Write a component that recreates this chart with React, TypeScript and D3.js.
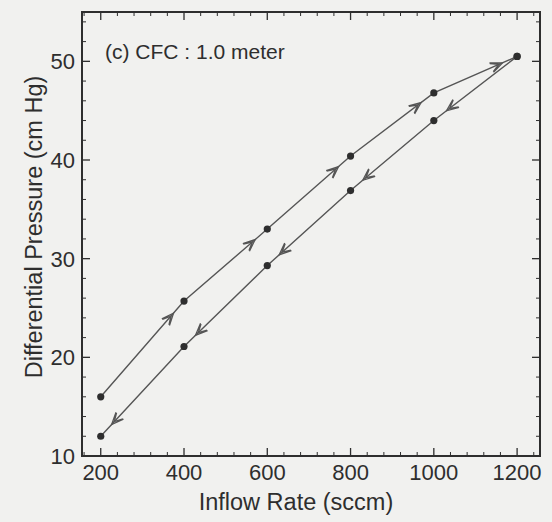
import React from "react";
import * as d3 from "d3";

const upFlow = [200, 400, 600, 800, 1000, 1200];
const upPressure = [16.0, 25.7, 33.0, 40.4, 46.8, 50.5];
const downFlow = [1200, 1000, 800, 600, 400, 200];
const downPressure = [50.5, 44.0, 36.9, 29.3, 21.1, 12.0];
const xTicks = [200, 400, 600, 800, 1000, 1200];
const yTicks = [10, 20, 30, 40, 50];
const panelLabel = "(c) CFC : 1.0 meter";
const xTitle = "Inflow Rate (sccm)";
const yTitle = "Differential Pressure (cm Hg)";

const W = 552, H = 522;
const L = 82, R = 540, T = 12, B = 456;
const FONT = "'Liberation Sans', Arial, Helvetica, sans-serif";
const INK = "#2e2e2e";
const LINE = "#555";

export default function App() {
  const x = d3.scaleLinear().domain([155, 1255]).range([L, R]);
  const y = d3.scaleLinear().domain([10, 55]).range([B, T]);

  const xMinor = d3.range(160, 1255, 40).filter((v) => v % 200 !== 0);
  const yMinor = d3.range(12, 55, 2).filter((v) => v % 10 !== 0);

  const line = d3.line<[number, number]>().x((d) => x(d[0])).y((d) => y(d[1]));
  const up: [number, number][] = upFlow.map((f, i) => [f, upPressure[i]]);
  const down: [number, number][] = downFlow.map((f, i) => [f, downPressure[i]]);

  const arrows = (pts: [number, number][]) => {
    const out: string[] = [];
    for (let i = 0; i < pts.length - 1; i++) {
      const x0 = x(pts[i][0]), y0 = y(pts[i][1]);
      const x1 = x(pts[i + 1][0]), y1 = y(pts[i + 1][1]);
      const dx = x1 - x0, dy = y1 - y0;
      const len = Math.hypot(dx, dy);
      const ux = dx / len, uy = dy / len;
      const tx = x1 - ux * 16, ty = y1 - uy * 16;
      const ang = Math.atan2(uy, ux);
      const wing = (l: number, a: number, bx: number, by: number) => {
        const a1 = ang + Math.PI - a, a2 = ang + Math.PI + a;
        return `M${bx + Math.cos(a1) * l},${by + Math.sin(a1) * l}L${bx},${by}L${bx + Math.cos(a2) * l},${by + Math.sin(a2) * l}`;
      };
      out.push(wing(13, 0.4, tx, ty));
      out.push(wing(9, 0.5, tx - ux * 4, ty - uy * 4));
    }
    return out;
  };

  return (
    <svg width={W} height={H} style={{ position: "absolute", left: 0, top: 0, background: "#f1f1ef" }}>
      <rect x={0} y={0} width={W} height={H} fill="#f1f1ef" />
      {xTicks.map((v) => (
        <g key={"xt" + v} stroke={INK} strokeWidth={1.3}>
          <line x1={x(v)} x2={x(v)} y1={B} y2={B - 8} />
          <line x1={x(v)} x2={x(v)} y1={T} y2={T + 8} />
        </g>
      ))}
      {xMinor.map((v) => (
        <g key={"xm" + v} stroke={INK} strokeWidth={1}>
          <line x1={x(v)} x2={x(v)} y1={B} y2={B - 4} />
          <line x1={x(v)} x2={x(v)} y1={T} y2={T + 4} />
        </g>
      ))}
      {yTicks.map((v) => (
        <g key={"yt" + v} stroke={INK} strokeWidth={1.3}>
          <line x1={L} x2={L + 8} y1={y(v)} y2={y(v)} />
          <line x1={R} x2={R - 8} y1={y(v)} y2={y(v)} />
        </g>
      ))}
      {yMinor.map((v) => (
        <g key={"ym" + v} stroke={INK} strokeWidth={1}>
          <line x1={L} x2={L + 4} y1={y(v)} y2={y(v)} />
          <line x1={R} x2={R - 4} y1={y(v)} y2={y(v)} />
        </g>
      ))}
      <rect x={L} y={T} width={R - L} height={B - T} fill="none" stroke={INK} strokeWidth={2} />

      {xTicks.map((v) => (
        <text key={"xl" + v} x={x(v)} y={480} textAnchor="middle" fontFamily={FONT} fontSize={22} fill={INK}>
          {v}
        </text>
      ))}
      {yTicks.map((v) => (
        <text key={"yl" + v} x={75} y={y(v) + 8} textAnchor="end" fontFamily={FONT} fontSize={22} fill={INK}>
          {v}
        </text>
      ))}

      <text x={296} y={510} textAnchor="middle" fontFamily={FONT} fontSize={23.5} fill={INK}>
        {xTitle}
      </text>
      <text transform="translate(42,227) rotate(-90)" textAnchor="middle" fontFamily={FONT} fontSize={23.5} fill={INK}>
        {yTitle}
      </text>
      <text x={105} y={59} fontFamily={FONT} fontSize={21} fill={INK}>
        {panelLabel}
      </text>

      <path d={line(up) || ""} fill="none" stroke={LINE} strokeWidth={1.4} />
      <path d={line(down) || ""} fill="none" stroke={LINE} strokeWidth={1.4} />
      <path d={[...arrows(up), ...arrows(down)].join("")} fill="none" stroke={LINE} strokeWidth={1.3} />
      {[...up, ...down].map((d, i) => (
        <circle key={"p" + i} cx={x(d[0])} cy={y(d[1])} r={3.6} fill={INK} />
      ))}
    </svg>
  );
}
